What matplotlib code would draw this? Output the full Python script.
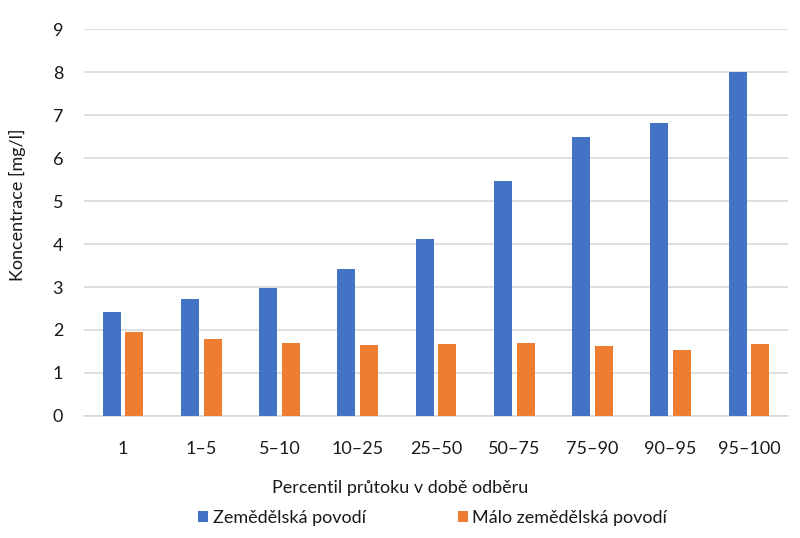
import matplotlib
matplotlib.use("Agg")
import matplotlib.pyplot as plt
import numpy as np

categories = ["1", "1–5", "5–10", "10–25", "25–50", "50–75", "75–90", "90–95", "95–100"]
zemedelska = [2.42, 2.73, 2.98, 3.41, 4.12, 5.46, 6.49, 6.81, 8.0]
malo_zemedelska = [1.95, 1.80, 1.69, 1.64, 1.67, 1.70, 1.62, 1.53, 1.67]

plt.rcParams["font.family"] = ["Lato", "DejaVu Sans"]

fig = plt.figure(figsize=(8, 5.38), dpi=100)
ax = fig.add_axes([0.105, 0.2268, 0.88, 0.7192])

x = np.arange(len(categories))
w = 0.23
gap = 0.06
b1 = ax.bar(x - (w + gap) / 2, zemedelska, w, color="#4472C4", label="Zemědělská povodí", zorder=3)
b2 = ax.bar(x + (w + gap) / 2, malo_zemedelska, w, color="#ED7D31", label="Málo zemědělská povodí", zorder=3)

ax.set_xlim(-0.5, len(categories) - 0.5)
ax.set_ylim(0, 9)
ax.set_yticks(range(0, 10))
ax.set_xticks(x)
ax.set_xticklabels(categories)
ax.grid(axis="y", color="#d9d9d9", linewidth=1.2, zorder=0)
for s in ["top", "right", "left"]:
    ax.spines[s].set_visible(False)
ax.spines["bottom"].set_color("#d9d9d9")
ax.spines["bottom"].set_linewidth(1.2)
ax.tick_params(axis="both", length=0, labelsize=13, colors="#1a1a1a")
ax.tick_params(axis="y", pad=15)
ax.tick_params(axis="x", pad=18)

fig.text(0.022, 1 - 205 / 538, "Koncentrace [mg/l]", rotation=90, ha="center", va="center",
         fontsize=13, color="#1a1a1a")
fig.text(0.5, 1 - 488 / 538, "Percentil průtoku v době odběru", ha="center", va="center",
         fontsize=13, color="#1a1a1a")

fig.legend(handles=[b1, b2], loc="center", bbox_to_anchor=(0.541, 1 - 518 / 538), ncol=2,
           frameon=False, fontsize=13, handlelength=0.55, handleheight=0.55,
           handletextpad=0.25, columnspacing=5.1, labelcolor="#1a1a1a")

fig.savefig("out.png", dpi=100)
